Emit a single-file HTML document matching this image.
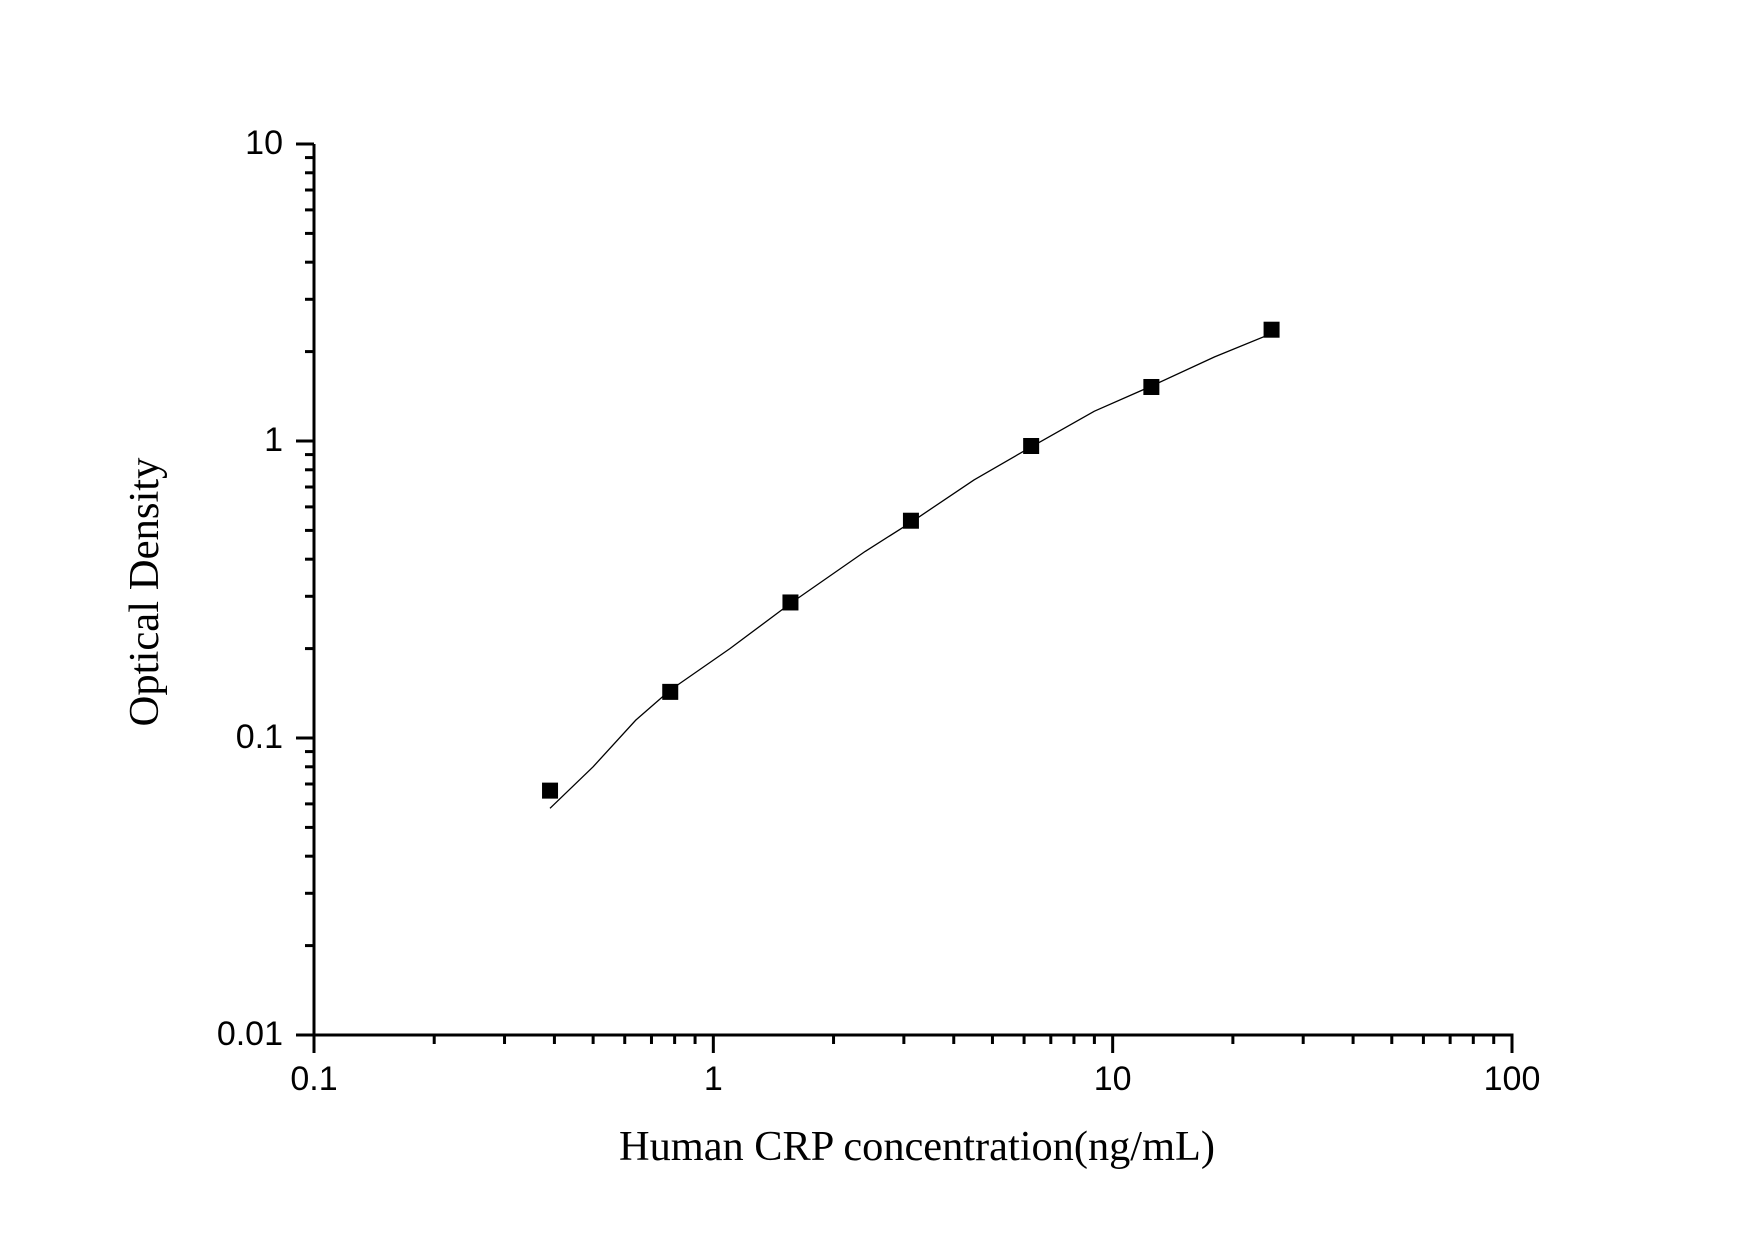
<!DOCTYPE html>
<html><head><meta charset="utf-8"><style>html,body{margin:0;padding:0;background:#fff}svg{display:block}</style></head>
<body>
<svg id="chart" width="1755" height="1240" xmlns="http://www.w3.org/2000/svg">
<g id="axes"></g>
<g id="curve"></g>
<g id="points"></g>
<text x="917" y="1160" text-anchor="middle" font-family="Liberation Serif, serif" font-size="42" textLength="596" lengthAdjust="spacingAndGlyphs">Human CRP concentration(ng/mL)</text>
<text x="0" y="0" transform="translate(158,592) rotate(-90)" text-anchor="middle" font-family="Liberation Serif, serif" font-size="42" textLength="269" lengthAdjust="spacingAndGlyphs">Optical Density</text>
</svg>
<script>
const concentrations = [0.39, 0.78, 1.56, 3.125, 6.25, 12.5, 25];
const odValues = [0.0665, 0.143, 0.286, 0.539, 0.962, 1.52, 2.37];
const curveX = [0.39, 0.5, 0.64, 0.78, 1.1, 1.56, 2.4, 3.125, 4.5, 6.25, 9, 12.5, 18, 25];
const curveY = [0.058, 0.08, 0.115, 0.145, 0.2, 0.284, 0.425, 0.532, 0.74, 0.955, 1.26, 1.53, 1.92, 2.3];
const xTicks = [0.1, 1, 10, 100];
const xTickLabels = ["0.1", "1", "10", "100"];
const yTicks = [0.01, 0.1, 1, 10];
const yTickLabels = ["0.01", "0.1", "1", "10"];

const X0 = 314, X1 = 1512, Y0 = 1035, Y1 = 144;
function xs(v){ return X0 + (Math.log10(v) + 1) / 3 * (X1 - X0); }
function ys(v){ return Y0 - (Math.log10(v) + 2) / 3 * (Y0 - Y1); }
const NS = "http://www.w3.org/2000/svg";
function mk(tag, parent, attrs){ const e = document.createElementNS(NS, tag); for (const k in attrs) e.setAttribute(k, attrs[k]); parent.appendChild(e); return e; }

const axes = document.getElementById('axes');
let el = mk('line', axes, {x1: X0, y1: Y0, x2: X1 + 1.5, y2: Y0, stroke: '#000', 'stroke-width': 3});


el = mk('line', axes, {x1: X0, y1: Y0 + 1.5, x2: X0, y2: Y1, stroke: '#000', 'stroke-width': 3});



xTicks.forEach((t, i) => {
  const x = xs(t);
  let tk = mk('line', axes, {x1: x, y1: Y0, x2: x, y2: Y0 + 18, stroke: '#000', 'stroke-width': 3});
  
  
  let lb = mk('text', axes, {x: x, y: 1090, 'text-anchor': 'middle', 'font-family': 'Liberation Sans, sans-serif', 'font-size': 34});
  lb.textContent = xTickLabels[i];
  
  
  if (i < xTicks.length - 1) {
    for (let m = 2; m <= 9; m++) {
      const mx = xs(t * m);
      let mt = mk('line', axes, {x1: mx, y1: Y0, x2: mx, y2: Y0 + 9, stroke: '#000', 'stroke-width': 3});
      
      
    }
  }
});
yTicks.forEach((t, i) => {
  const y = ys(t);
  let tk = mk('line', axes, {x1: X0 - 18, y1: y, x2: X0, y2: y, stroke: '#000', 'stroke-width': 3});
  
  
  let lb = mk('text', axes, {x: 283, y: y + 10, 'text-anchor': 'end', 'font-family': 'Liberation Sans, sans-serif', 'font-size': 34});
  lb.textContent = yTickLabels[i];
  
  
  if (i < yTicks.length - 1) {
    for (let m = 2; m <= 9; m++) {
      const my = ys(t * m);
      let mt = mk('line', axes, {x1: X0 - 9, y1: my, x2: X0, y2: my, stroke: '#000', 'stroke-width': 3});
      
      
    }
  }
});

const cg = document.getElementById('curve');
const d = curveX.map((v, i) => (i ? 'L' : 'M') + xs(v).toFixed(1) + ',' + ys(curveY[i]).toFixed(1)).join(' ');
let path = mk('path', cg, {d: d, fill: 'none', stroke: '#000', 'stroke-width': 1.3, 'stroke-linejoin': 'round'});



const pg = document.getElementById('points');
concentrations.forEach((c, i) => {
  let r = mk('rect', pg, {x: xs(c) - 8, y: ys(odValues[i]) - 8, width: 16, height: 16, fill: '#000'});
  
  
});
</script>
</body></html>
